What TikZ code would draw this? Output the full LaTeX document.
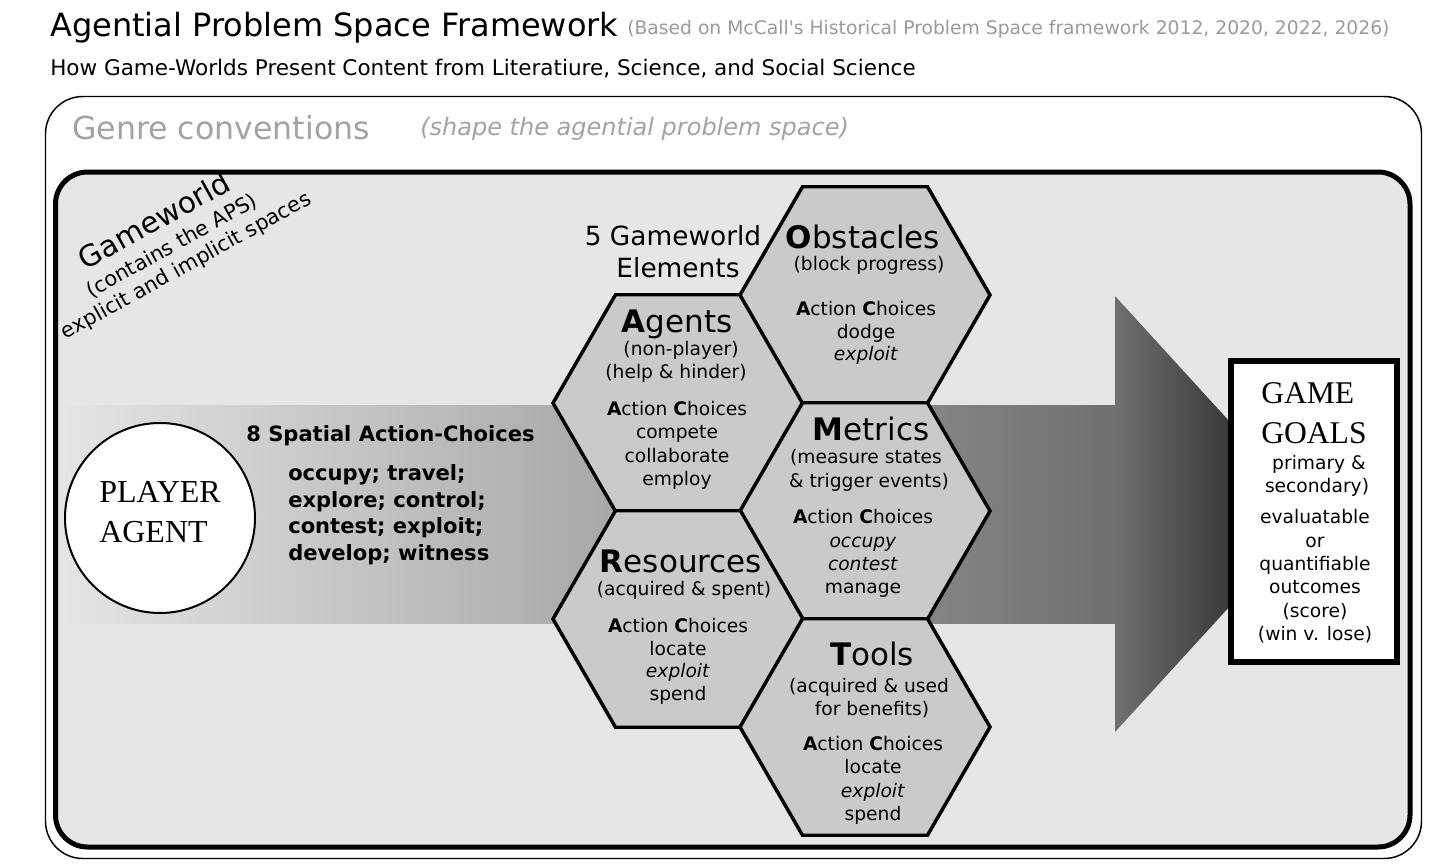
\documentclass[tikz,border=0pt]{standalone}
\usepackage{fontspec}
\setmainfont{DejaVu Sans}
\newfontfamily\serf{Liberation Serif}
\newfontfamily\quotefont{DejaVu Sans}
\definecolor{bgray}{HTML}{E6E6E6}
\definecolor{hexfill}{HTML}{CACACA}
\definecolor{genregray}{HTML}{A3A3A3}
\definecolor{basedgray}{HTML}{9A9A9A}
\definecolor{shaftL}{HTML}{E4E4E4}
\definecolor{shaftR}{HTML}{707070}
\definecolor{headR}{HTML}{111111}
\newcommand\AC{\textbf{A}ction \textbf{C}hoices}
\begin{document}
\begin{tikzpicture}[x=0.75pt,y=-0.75pt,
  txt/.style={inner sep=0pt,anchor=base,font=\fontsize{14}{17}\selectfont},
  head/.style={inner sep=0pt,anchor=base,font=\fontsize{23.25}{28}\selectfont},
  lft/.style={inner sep=0pt,anchor=base west},
  hexstyle/.style={draw=black,line width=2.6pt,fill=hexfill,line join=miter},
  spatial/.style={lft,font=\fontsize{15.8}{19}\selectfont\bfseries},
  goal/.style={lft,font=\fontsize{23.7}{28}\serf},
  gwsmall/.style={inner sep=0pt,anchor=base,font=\fontsize{15.6}{19}\selectfont},
]
\useasboundingbox (0,0) rectangle (1440,864);
\fill[white] (0,0) rectangle (1440,864);

% titles
\node[lft,font=\fontsize{24}{28}\selectfont] (title) at (50,36) {Agential Problem Space Framework};
\node[lft,font=\fontsize{14.05}{17}\selectfont,text=basedgray] (based) at (627,34) {(Based on McCall{\quotefont'}s Historical Problem Space framework 2012, 2020, 2022, 2026)};
\node[lft,font=\fontsize{16.15}{19}\selectfont] (subtitle) at (50,75) {How Game-Worlds Present Content from Literatiure, Science, and Social Science};

% outer box
\draw[line width=1.1pt,rounded corners=28] (45.5,96.5) rectangle (1421.5,858.5);
\node[lft,font=\fontsize{23.7}{28}\selectfont,text=genregray] (genre) at (72,139) {Genre conventions};
\node[lft,font=\fontsize{18}{22}\selectfont\itshape,text=genregray] (shape) at (420,135) {(shape the agential problem space)};

% inner box
\draw[line width=3.75pt,fill=bgray,rounded corners=24] (55.5,172) rectangle (1410,847);

% arrow
\shade[left color=shaftL,right color=shaftR] (65,405) rectangle (1115.5,623);
\shade[left color=shaftR,right color=headR] (1115,296) -- (1314,514) -- (1115,732) -- cycle;

% gameworld rotated label
\begin{scope}[shift={(175,252)},rotate=29,transform shape]
  \node[inner sep=0pt,anchor=base,font=\fontsize{22}{26}\selectfont] (gw1) at (-3,-27) {Gameworld};
  \node[gwsmall] (gw2) at (0,0) {(contains the APS)};
  \node[gwsmall] (gw3) at (3,24) {explicit and implicit spaces};
\end{scope}

% hexagons
\coordinate (hA) at (678,403);
\coordinate (hO) at (865,295);
\coordinate (hM) at (865,511);
\coordinate (hR) at (678,619);
\coordinate (hT) at (865,727);
\foreach \c in {hA,hO,hM,hR,hT}{
  \draw[hexstyle] ([shift={(125,0)}]\c) -- ([shift={(62.5,108.25)}]\c) -- ([shift={(-62.5,108.25)}]\c)
    -- ([shift={(-125,0)}]\c) -- ([shift={(-62.5,-108.25)}]\c) -- ([shift={(62.5,-108.25)}]\c) -- cycle;
}

\node[inner sep=0pt,anchor=base,font=\fontsize{19.8}{24}\selectfont] (five1) at (673,245) {5 Gameworld};
\node[inner sep=0pt,anchor=base,font=\fontsize{19.8}{24}\selectfont] (five2) at (678,277) {Elements};

% Obstacles
\node[head] (obH) at (863,248) {\textbf{O}bstacles};
\node[txt] (obS) at (869,270) {(block progress)};
\node[txt] (obA) at (866,315) {\AC};
\node[txt] (ob1) at (866,338) {dodge};
\node[txt] (ob2) at (866,360) {\textit{exploit}};

% Agents
\node[head] (agH) at (677,332) {\textbf{A}gents};
\node[txt] (agS1) at (681,355) {(non-player)};
\node[txt] (agS2) at (676,378) {(help \& hinder)};
\node[txt] (agA) at (677,415) {\AC};
\node[txt] (ag1) at (677,438) {compete};
\node[txt] (ag2) at (677,462) {collaborate};
\node[txt] (ag3) at (677,485) {employ};

% Metrics
\node[head] (meH) at (871,440) {\textbf{M}etrics};
\node[txt] (meS1) at (866,463) {(measure states};
\node[txt] (meS2) at (869,487) {\& trigger events)};
\node[txt] (meA) at (863,523) {\AC};
\node[txt] (me1) at (863,547) {\textit{occupy}};
\node[txt] (me2) at (863,570) {\textit{contest}};
\node[txt] (me3) at (863,593) {manage};

% Resources
\node[head] (reH) at (681,572) {\textbf{R}esources};
\node[txt] (reS) at (684,595) {(acquired \& spent)};
\node[txt] (reA) at (678,632) {\AC};
\node[txt] (re1) at (678,655) {locate};
\node[txt] (re2) at (678,677) {\textit{exploit}};
\node[txt] (re3) at (678,700) {spend};

% Tools
\node[head] (toH) at (872,665) {\textbf{T}ools};
\node[txt] (toS1) at (869,692) {(acquired \& used};
\node[txt] (toS2) at (872,715) {for benefits)};
\node[txt] (toA) at (873,750) {\AC};
\node[txt] (to1) at (873,773) {locate};
\node[txt] (to2) at (873,797) {\textit{exploit}};
\node[txt] (to3) at (873,820) {spend};

% player agent
\node[circle,draw,line width=1.5pt,fill=white,minimum size=142.5pt,inner sep=0pt] (player) at (160,518) {};
\node[lft,font=\fontsize{24}{28}\serf] (pl1) at (99,502) {PLAYER};
\node[lft,font=\fontsize{24}{28}\serf] (pl2) at (99,542) {AGENT};

% spatial action choices
\node[spatial] (sp0) at (246,441) {8 Spatial Action-Choices};
\node[spatial] (sp1) at (288,480) {occupy; travel;};
\node[spatial] (sp2) at (288,507) {explore; control;};
\node[spatial] (sp3) at (288,533) {contest; exploit;};
\node[spatial] (sp4) at (288,560) {develop; witness};

% game goals
\node[draw,line width=4.5pt,fill=white,minimum width=124.5pt,minimum height=225.75pt,inner sep=0pt] (goalbox) at (1314,511.5) {};
\node[goal] (gg1) at (1261,403) {GAME};
\node[goal] (gg2) at (1261,443) {GOALS};
\node[txt] (gg3) at (1319,469) {primary \&};
\node[txt] (gg4) at (1317,492) {secondary)};
\node[txt] (gg5) at (1315,523) {evaluatable};
\node[txt] (gg6) at (1315,547) {or};
\node[txt] (gg7) at (1315,570) {quantifiable};
\node[txt] (gg8) at (1315,593) {outcomes};
\node[txt] (gg9) at (1315,617) {(score)};
\node[txt] (gg10) at (1315,640) {(win v. lose)};
\end{tikzpicture}
\end{document}
